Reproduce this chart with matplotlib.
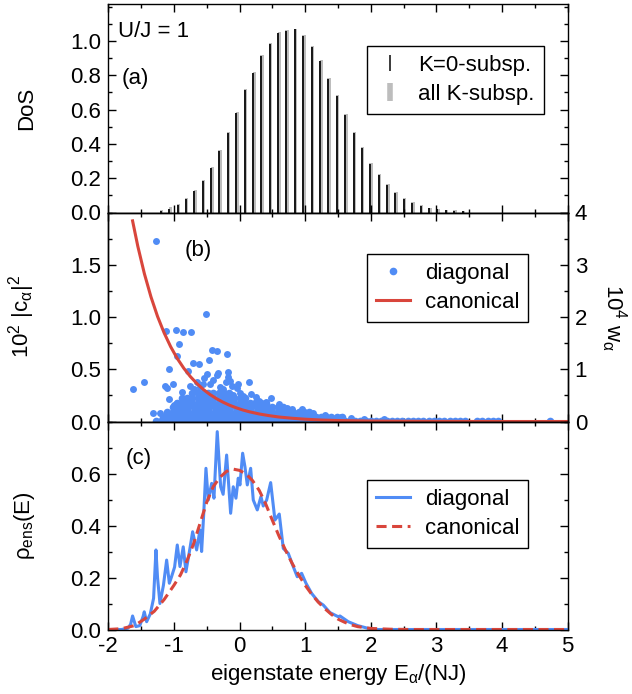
import matplotlib
matplotlib.use('Agg')
import matplotlib.pyplot as plt
from matplotlib.lines import Line2D
from matplotlib.ticker import MultipleLocator, FixedLocator

plt.rcParams.update({'font.size': 16,
                     'font.family': ['Liberation Sans', 'DejaVu Sans'],
                     'mathtext.default': 'regular',
                     'axes.unicode_minus': False,
                     'axes.linewidth': 1.0})

blue = '#508cf5'
red = '#d9463c'

# (a) density of states
bar_x = [-1.20, -1.07, -0.94, -0.82, -0.69, -0.56, -0.43, -0.31, -0.18, -0.05, 0.08, 0.21, 0.33,
         0.46, 0.59, 0.71, 0.84, 0.97, 1.10, 1.23, 1.35, 1.48, 1.61, 1.74, 1.86, 1.99, 2.12, 2.25,
         2.37, 2.50, 2.63, 2.76, 2.89, 3.01, 3.14, 3.27, 3.40]
dos_k0 = [0.01, 0.02, 0.045, 0.08, 0.125, 0.185, 0.26, 0.36, 0.465, 0.58, 0.715, 0.815, 0.91,
          0.98, 1.045, 1.06, 1.07, 1.03, 0.965, 0.885, 0.78, 0.68, 0.57, 0.465, 0.375, 0.285,
          0.22, 0.16, 0.115, 0.08, 0.055, 0.04, 0.025, 0.018, 0.015, 0.01, 0.008]
dos_all = [0.012, 0.03, 0.05, 0.085, 0.13, 0.19, 0.265, 0.365, 0.47, 0.585, 0.72, 0.82, 0.915,
           0.985, 1.05, 1.065, 1.07, 1.035, 0.97, 0.89, 0.785, 0.685, 0.575, 0.47, 0.38, 0.29,
           0.225, 0.165, 0.12, 0.085, 0.06, 0.042, 0.028, 0.02, 0.016, 0.012, 0.009]

# (b) weights, scattered points above the dense cloud
diag_x = [-1.27, -0.515, -1.121, -0.969, -0.857, -0.745, -0.923, -0.956, -1.07, -0.783, -0.702,
          -0.614, -1.629, -1.455, -1.132, -1.11, -1.07, -0.882, -0.857, -1.312, -1.205, -0.426,
          -0.345, -0.187, -0.462, -0.492, -0.542, -0.349, -0.329, -0.177, -0.182, -0.02, -1.02,
          0.143, -0.146, -0.207, -0.12, -0.035, -0.105, 0.006, 0.174, 0.474, 0.605, 0.717, 0.958,
          1.123, 1.545, -0.6, -0.45, -0.3, -0.7, -0.25, 0.05, 0.3, 0.4, 0.8, 1.3, 1.7, 1.9, 2.2,
          -0.95, -1.0, 0.25, -0.55, -0.4, -0.65, -0.75]
diag_y = [1.73, 1.03, 0.866, 0.875, 0.857, 0.854, 0.74, 0.63, 0.502, 0.486, 0.56,
          0.552, 0.314, 0.378, 0.34, 0.316, 0.213, 0.281, 0.213, 0.08, 0.084, 0.688,
          0.671, 0.642, 0.591, 0.452, 0.415, 0.447, 0.46, 0.476, 0.425, 0.36, 0.36,
          0.375, 0.383, 0.38, 0.344, 0.325, 0.258, 0.271, 0.261, 0.221, 0.172, 0.133, 0.121,
          0.079, 0.04, 0.33, 0.36, 0.33, 0.31, 0.31, 0.24, 0.2, 0.19, 0.12, 0.06, 0.03, 0.025, 0.02,
          0.18, 0.16, 0.23, 0.36, 0.4, 0.38, 0.34]

# dense cloud, one list of energies per weight level
cloud_levels = [0.006, 0.045, 0.09, 0.135, 0.18, 0.225, 0.27]
cloud_x = [
    [-1.28, -1.20, -1.12, -1.04, -0.96, -0.88, -0.80, -0.72, -0.64, -0.56, -0.48, -0.40, -0.32,
     -0.24, -0.16, -0.08, 0.00, 0.08, 0.16, 0.24, 0.32, 0.40, 0.48, 0.56, 0.64, 0.72, 0.80, 0.88,
     0.96, 1.04, 1.12, 1.20, 1.28, 1.36, 1.44, 1.52, 1.60, 1.68, 1.76, 1.84, 1.92, 2.00, 2.08,
     2.16, 2.24, 2.32, 2.40, 2.48, 2.56, 2.64, 2.72, 2.80, 2.88, 2.96, 3.04, 3.12, 3.20, 3.28,
     3.36, 3.44, 3.62, 3.70, 3.78, 3.86, 3.94, 4.73],
    [-1.16, -1.08, -1.00, -0.92, -0.84, -0.76, -0.68, -0.60, -0.52, -0.44, -0.36, -0.28, -0.20,
     -0.12, -0.04, 0.04, 0.12, 0.20, 0.28, 0.36, 0.44, 0.52, 0.60, 0.68, 0.76, 0.84, 0.92, 1.00,
     1.08, 1.16, 1.24, 1.32, 1.40, 1.48, 1.56],
    [-1.10, -1.02, -0.94, -0.86, -0.78, -0.70, -0.62, -0.54, -0.46, -0.38, -0.30, -0.22, -0.14,
     -0.06, 0.02, 0.10, 0.18, 0.26, 0.34, 0.42, 0.50, 0.58, 0.66, 0.74, 0.82, 0.90, 0.98, 1.06],
    [-1.02, -0.94, -0.86, -0.78, -0.70, -0.62, -0.54, -0.46, -0.38, -0.30, -0.22, -0.14, -0.06,
     0.02, 0.10, 0.18, 0.26, 0.34, 0.42, 0.50, 0.58, 0.66],
    [-0.96, -0.88, -0.80, -0.72, -0.64, -0.56, -0.48, -0.40, -0.32, -0.24, -0.16, -0.08, 0.00,
     0.08, 0.16, 0.24, 0.32, 0.40],
    [-0.88, -0.80, -0.72, -0.64, -0.56, -0.48, -0.40, -0.32, -0.24, -0.16, -0.08, 0.00, 0.08],
    [-0.72, -0.64, -0.56, -0.48, -0.40, -0.32, -0.24, -0.16],
]

canon_x = [-1.63, -1.55, -1.45, -1.35, -1.25, -1.15, -1.05, -0.95, -0.85, -0.75, -0.65, -0.55,
           -0.45, -0.35, -0.25, -0.15, -0.05, 0.05, 0.15, 0.3, 0.45, 0.6, 0.8, 1.0, 1.25, 1.5,
           2.0, 2.5, 3.0, 4.0, 5.0]
canon_w = [1.92, 1.676, 1.414, 1.193, 1.006, 0.849, 0.716, 0.604, 0.51, 0.43, 0.363, 0.306,
           0.258, 0.218, 0.184, 0.155, 0.131, 0.11, 0.093, 0.072, 0.056, 0.043, 0.031, 0.022,
           0.014, 0.0094, 0.004, 0.002, 0.001, 0.0, 0.0]

# (c) energy distribution
rho_diag_x = [-2.0, -1.8, -1.7, -1.66, -1.63, -1.58, -1.52, -1.47, -1.452, -1.416, -1.36, -1.31,
              -1.274, -1.25, -1.213, -1.16, -1.111, -1.07, -1.04, -0.99, -0.949, -0.908, -0.858,
              -0.817, -0.756, -0.715, -0.654, -0.603, -0.578, -0.545, -0.512, -0.477, -0.425,
              -0.39, -0.34, -0.288, -0.25, -0.197, -0.136, -0.096, -0.055, -0.02, 0.006, 0.047,
              0.082, 0.118, 0.169, 0.209, 0.27, 0.326, 0.361, 0.413, 0.474, 0.539, 0.605, 0.666,
              0.742, 0.818, 0.879, 0.946, 1.012, 1.098, 1.2, 1.276, 1.378, 1.504, 1.53, 1.656,
              1.8, 1.95, 2.1, 5.0]
rho_diag = [0.0, 0.0, 0.005, 0.02, 0.052, 0.011, 0.015, 0.05, 0.068, 0.03, 0.06, 0.12,
            0.306, 0.2, 0.1, 0.17, 0.267, 0.178, 0.2, 0.24, 0.325, 0.242, 0.318,
            0.222, 0.312, 0.376, 0.306, 0.383, 0.3, 0.45, 0.62, 0.498, 0.562,
            0.505, 0.761, 0.549, 0.52, 0.671, 0.447, 0.549, 0.505, 0.582, 0.556, 0.678,
            0.626, 0.556, 0.62, 0.498, 0.46, 0.511, 0.475, 0.498, 0.565, 0.421, 0.444, 0.312,
            0.293, 0.242, 0.203, 0.216, 0.178, 0.139, 0.107, 0.094, 0.065, 0.049, 0.052, 0.03,
            0.015, 0.005, 0.0, 0.0]
rho_can_x = [-2.0, -1.8, -1.6, -1.45, -1.3, -1.15, -1.0, -0.9, -0.8, -0.7, -0.6, -0.5, -0.4, -0.3,
             -0.2, -0.1, 0.0, 0.1, 0.2, 0.3, 0.4, 0.5, 0.6, 0.7, 0.8, 0.9, 1.0, 1.1, 1.2, 1.3,
             1.4, 1.5, 1.6, 1.7, 1.8, 2.0, 2.3, 2.6, 5.0]
rho_can = [0.0, 0.003, 0.015, 0.04, 0.07, 0.115, 0.17, 0.21, 0.265, 0.33, 0.41, 0.49, 0.55, 0.585,
           0.608, 0.617, 0.612, 0.598, 0.572, 0.535, 0.482, 0.42, 0.36, 0.305, 0.255, 0.21, 0.17,
           0.135, 0.105, 0.08, 0.058, 0.04, 0.028, 0.018, 0.011, 0.004, 0.001, 0.0, 0.0]

fig = plt.figure(figsize=(6.32, 6.94), dpi=100)
L, W = 108.3 / 632, 459.4 / 632
axa = fig.add_axes([L, 1 - 212.5 / 694, W, 208.5 / 694])
axb = fig.add_axes([L, 1 - 421.5 / 694, W, 209 / 694])
axc = fig.add_axes([L, 1 - 629.5 / 694, W, 208 / 694])

for ax in (axa, axb, axc):
    ax.set_xlim(-2, 5)
    ax.xaxis.set_major_locator(MultipleLocator(1))
    ax.xaxis.set_minor_locator(MultipleLocator(0.5))
    ax.tick_params(which='both', direction='in', top=True, right=True, width=1.0, pad=5)
    ax.tick_params(which='major', length=6)
    ax.tick_params(which='minor', length=3)
    ax.yaxis.set_label_coords(-0.155, 0.5)

leg_kw = dict(loc='upper left', borderaxespad=0, fancybox=False, edgecolor='black',
              framealpha=1, handletextpad=0.7, labelspacing=0.35)

# panel (a)
axa.bar([x + 0.014 for x in bar_x], dos_all, width=0.05, color='#bdbdbd', linewidth=0)
axa.bar(bar_x, dos_k0, width=0.03, color='#1a1a1a', linewidth=0)
axa.set_ylim(0, 1.215)
axa.yaxis.set_major_locator(FixedLocator([0, 0.2, 0.4, 0.6, 0.8, 1.0]))
axa.yaxis.set_minor_locator(MultipleLocator(0.1))
axa.set_yticklabels(['0.0', '0.2', '0.4', '0.6', '0.8', '1.0'])
axa.tick_params(labelbottom=False)
axa.set_ylabel('DoS')
axa.text(0.022, 0.868, 'U/J = 1', transform=axa.transAxes, va='center')
axa.text(0.028, 0.645, '(a)', transform=axa.transAxes, va='center')
h_a = [Line2D([], [], marker='|', color='#1a1a1a', ls='None', markersize=11, markeredgewidth=1.2),
       Line2D([], [], marker='|', color='#bdbdbd', ls='None', markersize=13, markeredgewidth=4)]
leg = axa.legend(h_a, ['K=0-subsp.', 'all K-subsp.'], bbox_to_anchor=(0.5638, 0.7986),
                 handlelength=1.2, **leg_kw)
leg.get_frame().set_linewidth(1.0)

# panel (b)
for lev, xs in zip(cloud_levels, cloud_x):
    axb.plot(xs, [lev] * len(xs), 'o', color=blue, markersize=5.5, markeredgewidth=0)
axb.plot(diag_x, diag_y, 'o', color=blue, markersize=5, markeredgewidth=0)
axb.plot(canon_x, canon_w, color=red, lw=2.2)
axb.set_ylim(0, 2.0)
axb.yaxis.set_major_locator(FixedLocator([0, 0.5, 1.0, 1.5]))
axb.yaxis.set_minor_locator(MultipleLocator(0.25))
axb.set_yticklabels(['0.0', '0.5', '1.0', '1.5'])
axb.tick_params(labelbottom=False, right=False, which='both')
axb.set_ylabel('10$^{2}$ |c$_{α}$|$^{2}$')
axb.text(0.167, 0.82, '(b)', transform=axb.transAxes, va='center')
h_b = [Line2D([], [], marker='o', color=blue, ls='None', markersize=5.5, markeredgewidth=0),
       Line2D([], [], color=red, lw=2.2)]
leg = axb.legend(h_b, ['diagonal', 'canonical'], bbox_to_anchor=(0.5638, 0.80),
                 handlelength=1.5, **leg_kw)
leg.get_frame().set_linewidth(1.0)

axr = axb.twinx()
axr.set_ylim(0, 4)
axr.yaxis.set_major_locator(MultipleLocator(1))
axr.yaxis.set_minor_locator(MultipleLocator(0.5))
axr.tick_params(which='both', direction='in', width=1.0, pad=5)
axr.tick_params(which='major', length=6)
axr.tick_params(which='minor', length=3)
fig.text(614 / 632, 1 - 318 / 694, '10$^{4}$ w$_{α}$', rotation=270, ha='center', va='center')

# panel (c)
axc.plot(rho_diag_x, rho_diag, color=blue, lw=2.2)
axc.plot(rho_can_x, rho_can, color=red, lw=2.2, dashes=(3.3, 1.8))
axc.set_ylim(0, 0.8)
axc.yaxis.set_major_locator(FixedLocator([0, 0.2, 0.4, 0.6]))
axc.yaxis.set_minor_locator(MultipleLocator(0.1))
axc.set_yticklabels(['0.0', '0.2', '0.4', '0.6'])
axc.set_ylabel('ρ$_{ens}$(E)')
axc.set_xlabel('eigenstate energy E$_{α}$/(NJ)', labelpad=3)
axc.text(0.0385, 0.82, '(c)', transform=axc.transAxes, va='center')
leg = axc.legend(['diagonal', 'canonical'], bbox_to_anchor=(0.5638, 0.719),
                 handlelength=1.5, **leg_kw)
leg.get_frame().set_linewidth(1.0)

fig.savefig('out.png', dpi=100)
